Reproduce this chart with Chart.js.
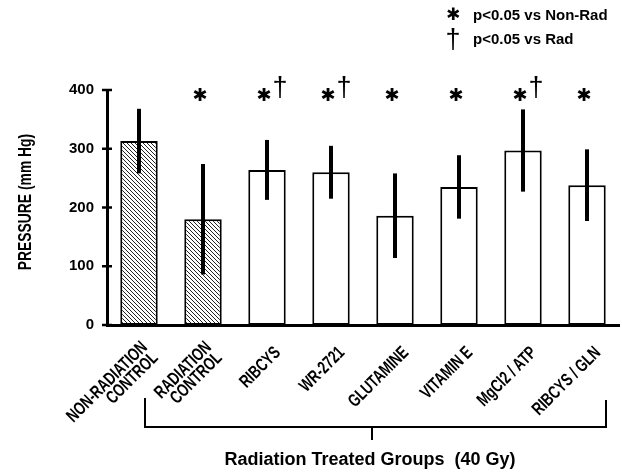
<!DOCTYPE html>
<html>
<head>
<meta charset="utf-8">
<script src="https://cdn.jsdelivr.net/npm/chart.js@4.4.1/dist/chart.umd.min.js"></script>
<style>
  html, body { margin: 0; padding: 0; background: #fff; }
  canvas { display: block; }
</style>
</head>
<body>
<canvas id="pressureChart" width="622" height="472"></canvas>
<script>
// Data
const categories = [['NON-RADIATION', 'CONTROL'], ['RADIATION', 'CONTROL'], 'RIBCYS', 'WR-2721', 'GLUTAMINE', 'VITAMIN E', 'MgCl2 / ATP', 'RIBCYS / GLN'];
const pressure = [313, 180, 264, 260, 186, 235, 297, 238];
const errors = [55, 94, 51, 45, 72, 54, 70, 61];
const hatched = [true, true, false, false, false, false, false, false];
const vsNonRad = [false, true, true, true, true, true, true, true];
const vsRad = [false, false, true, true, false, false, true, false];
const yTicks = [0, 100, 200, 300, 400];
const legendItems = [['✱', 'p<0.05 vs Non-Rad'], ['†', 'p<0.05 vs Rad']];
const yTitle = 'PRESSURE (mm Hg)';
const groupTitle = 'Radiation Treated Groups  (40 Gy)';

(() => {
  'use strict';

  const SANS = '"Liberation Sans", Arial, sans-serif';
  const canvas = document.getElementById('pressureChart');

  // diagonal hatch used by the two control bars
  function hatchPattern() {
    const c = document.createElement('canvas');
    c.width = c.height = 4;
    const g = c.getContext('2d');
    g.fillStyle = '#fff';
    g.fillRect(0, 0, 4, 4);
    g.strokeStyle = '#222';
    g.lineWidth = 1;
    g.beginPath();
    g.moveTo(0, 0); g.lineTo(4, 4);
    g.moveTo(-1, 3); g.lineTo(1, 5);
    g.moveTo(3, -1); g.lineTo(5, 1);
    g.stroke();
    return canvas.getContext('2d').createPattern(c, 'repeat');
  }

  // error bars, axis ticks, labels, significance marks, legend, bracket and titles
  const extras = {
    id: 'extras',
    afterDatasetsDraw(chart) {
      const { ctx, chartArea: a, scales: { y } } = chart;
      const bars = chart.getDatasetMeta(0).data;
      ctx.save();
      ctx.strokeStyle = '#000';
      ctx.fillStyle = '#000';

      ctx.lineWidth = 4;
      bars.forEach((b, i) => {
        ctx.beginPath();
        ctx.moveTo(b.x, y.getPixelForValue(pressure[i] + errors[i]));
        ctx.lineTo(b.x, y.getPixelForValue(pressure[i] - errors[i]));
        ctx.stroke();
      });

      ctx.lineWidth = 2.5;
      yTicks.forEach(v => {
        const py = y.getPixelForValue(v);
        ctx.beginPath();
        ctx.moveTo(a.left - 5, py);
        ctx.lineTo(a.left + 5, py);
        ctx.stroke();
      });

      // condensed, rotated category labels (no narrow face installed, squeeze the bold one)
      ctx.font = 'bold 18px ' + SANS;
      ctx.textAlign = 'right';
      ctx.textBaseline = 'middle';
      bars.forEach((b, i) => {
        const lines = [].concat(categories[i]);
        ctx.save();
        ctx.translate(b.x + 11, a.bottom + 25);
        ctx.rotate(-Math.PI / 4);
        ctx.scale(0.73, 1);
        lines.forEach((t, k) => ctx.fillText(t, 0, (k - (lines.length - 1) / 2) * 15));
        ctx.restore();
      });

      ctx.textAlign = 'center';
      bars.forEach((b, i) => {
        if (vsNonRad[i]) {
          ctx.font = 'bold 18px "DejaVu Sans"';
          ctx.fillText(legendItems[0][0], b.x - 3, a.top + 6);
        }
        if (vsRad[i]) {
          ctx.font = '27px ' + SANS;
          ctx.fillText(legendItems[1][0], b.x + 13, a.top - 1);
        }
      });

      // legend (top right)
      ctx.font = 'bold 17px "DejaVu Sans"';
      ctx.fillText(legendItems[0][0], 453, 16);
      ctx.font = '27px ' + SANS;
      ctx.fillText(legendItems[1][0], 453, 41);
      ctx.textAlign = 'left';
      ctx.font = 'bold 15px ' + SANS;
      ctx.fillText(legendItems[0][1], 473, 16);
      ctx.fillText(legendItems[1][1], 473, 40);

      // y title
      ctx.save();
      ctx.translate(26, 202);
      ctx.rotate(-Math.PI / 2);
      ctx.scale(0.77, 1);
      ctx.textAlign = 'center';
      ctx.font = 'bold 18px ' + SANS;
      ctx.fillText(yTitle, 0, 0);
      ctx.restore();

      // bracket under the treated groups
      const left = 145, right = 606, mid = 372, base = 427;
      ctx.lineWidth = 2;
      ctx.beginPath();
      ctx.moveTo(left, 398); ctx.lineTo(left, base);
      ctx.lineTo(right, base); ctx.lineTo(right, 400);
      ctx.moveTo(mid, base); ctx.lineTo(mid, 440);
      ctx.stroke();

      ctx.textAlign = 'center';
      ctx.textBaseline = 'alphabetic';
      ctx.font = 'bold 18px ' + SANS;
      ctx.fillText(groupTitle, 370, 465);
      ctx.restore();
    }
  };

  const pattern = hatchPattern();

  new Chart(canvas, {
    type: 'bar',
    data: {
      labels: categories,
      datasets: [{
        data: pressure,
        backgroundColor: hatched.map(h => h ? pattern : '#fff'),
        borderColor: '#000',
        borderWidth: 2,
        borderSkipped: false,
        categoryPercentage: 1,
        barPercentage: 0.585
      }]
    },
    options: {
      responsive: false,
      animation: false,
      layout: { padding: { top: 90, right: 3, left: 0, bottom: 0 } },
      plugins: { legend: { display: false }, tooltip: { enabled: false } },
      scales: {
        x: {
          grid: { display: false, drawTicks: false },
          border: { color: '#000', width: 3 },
          ticks: { display: false },
          afterFit: s => { s.height = 147; }
        },
        y: {
          min: 0,
          max: 400,
          grid: { display: false, drawTicks: false },
          border: { color: '#000', width: 3 },
          ticks: {
            stepSize: 100,
            color: '#000',
            font: { family: SANS, size: 15, weight: 'bold' },
            padding: 13
          },
          afterFit: s => { s.width = 107; }
        }
      }
    },
    plugins: [extras]
  });
})();
</script>
</body>
</html>
